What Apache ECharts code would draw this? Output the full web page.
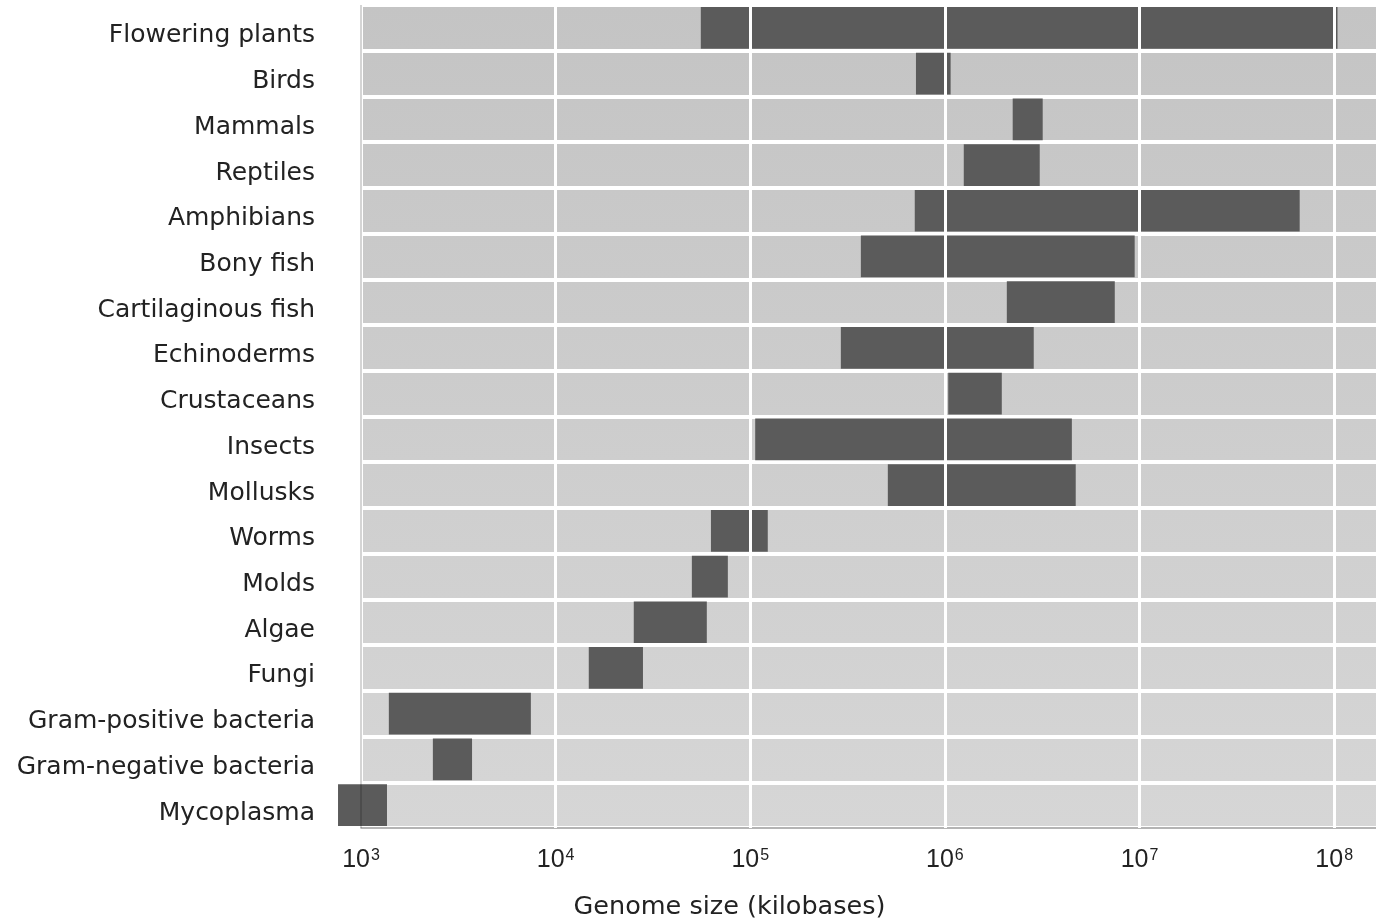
<!DOCTYPE html>
<html>
<head>
<meta charset="utf-8">
<script src="https://cdn.jsdelivr.net/npm/echarts@6/dist/echarts.min.js"></script>
<style>
html,body{margin:0;padding:0;background:#fff;}
#chart{width:1376px;height:920px;}
</style>
</head>
<body>
<div id="chart"></div>
<script>
// Categories, top to bottom
const categories = [
  'Flowering plants', 'Birds', 'Mammals', 'Reptiles', 'Amphibians', 'Bony fish',
  'Cartilaginous fish', 'Echinoderms', 'Crustaceans', 'Insects', 'Mollusks', 'Worms',
  'Molds', 'Algae', 'Fungi', 'Gram-positive bacteria', 'Gram-negative bacteria', 'Mycoplasma'
];
// Genome size ranges (kilobases)
const rangeMin = [5.57e4, 7.1e5, 2.23e6, 1.25e6, 7.0e5, 3.7e5, 2.08e6, 2.92e5, 1.04e6, 1.06e5, 5.09e5, 6.28e4, 5.01e4, 2.52e4, 1.48e4, 1.39e3, 2.34e3, 762];
const rangeMax = [1.04e8, 1.07e6, 3.18e6, 3.07e6, 6.65e7, 9.44e6, 7.46e6, 2.86e6, 1.96e6, 4.49e6, 4.70e6, 1.23e5, 7.67e4, 5.98e4, 2.81e4, 7.46e3, 3.72e3, 1.36e3];
// Tick label exponents (10^n)
const tickExponents = [3, 4, 5, 6, 7, 8];
const axisMin = 1e3;
const axisMax = 1.64e8;

const seriesData = categories.map((c, i) => [rangeMin[i], rangeMax[i], i]);

const gridLineData = tickExponents.map(function (e) {
  if (e === 3) {
    return {xAxis: Math.pow(10, e), lineStyle: {color: 'rgba(0,0,0,0.22)', width: 1.5, type: 'solid'}};
  }
  return {xAxis: Math.pow(10, e), lineStyle: {color: '#ffffff', width: 3, type: 'solid'}};
});

const chart = echarts.init(document.getElementById('chart'), null, {renderer: 'canvas'});
chart.setOption({
  animation: false,
  grid: {
    left: 361, right: 0, top: 5, bottom: 92,
    containLabel: false,
    outerBoundsMode: 'none',
    show: true, borderWidth: 0,
    backgroundColor: {
      type: 'linear', x: 0, y: 0, x2: 0, y2: 1,
      colorStops: [{offset: 0, color: '#c4c4c4'}, {offset: 1, color: '#d6d6d6'}]
    }
  },
  xAxis: {
    type: 'log', logBase: 10, min: axisMin, max: axisMax,
    axisLine: {show: true, lineStyle: {color: '#9c9c9c', width: 1.5}},
    axisTick: {show: false},
    splitLine: {show: true, showMinLine: false, showMaxLine: false, lineStyle: {color: '#ffffff', width: 3}},
    axisLabel: {
      margin: 18,
      formatter: function (v) {
        const e = Math.round(Math.log10(v));
        if (Math.abs(Math.log10(v) - e) > 1e-6 || tickExponents.indexOf(e) < 0) return '';
        return '{b|10}{s|' + e + '}';
      },
      rich: {
        b: {fontFamily: 'Liberation Sans', fontSize: 25, color: '#222', lineHeight: 28},
        s: {fontFamily: 'Liberation Sans', fontSize: 16, color: '#222', lineHeight: 16, verticalAlign: 'top', padding: [2, 0, 0, 1]}
      }
    },
    name: 'Genome size (kilobases)',
    nameLocation: 'middle',
    nameGap: 66,
    nameTextStyle: {fontFamily: 'DejaVu Sans', fontSize: 25.5, color: '#222', padding: [0, 278, 0, 0]}
  },
  yAxis: {
    type: 'category', data: categories, inverse: true,
    axisLine: {show: false},
    axisTick: {show: false},
    splitLine: {show: true, lineStyle: {color: '#ffffff', width: 4}},
    axisLabel: {
      interval: 0, margin: 46,
      formatter: function (v) { return '{a|' + v + '}'; },
      rich: {
        a: {fontFamily: 'DejaVu Sans', fontSize: 25, color: '#222', padding: [16, 0, 0, 0]}
      }
    }
  },
  series: [{
    type: 'custom',
    z: 2,
    encode: {x: [0, 1], y: 2},
    data: seriesData,
    renderItem: function (params, api) {
      const s = api.coord([api.value(0), api.value(2)]);
      const e = api.coord([api.value(1), api.value(2)]);
      const h = api.size([1, 1])[1] - 4;
      return {
        type: 'rect',
        shape: {x: s[0], y: s[1] - h / 2, width: e[0] - s[0], height: h},
        style: {fill: '#5b5b5b'}
      };
    }
  }, {
    type: 'scatter',
    z: 5,
    data: [],
    markLine: {
      silent: true, symbol: ['none', 'none'], label: {show: false},
      data: gridLineData
    }
  }]
});
</script>
</body>
</html>
